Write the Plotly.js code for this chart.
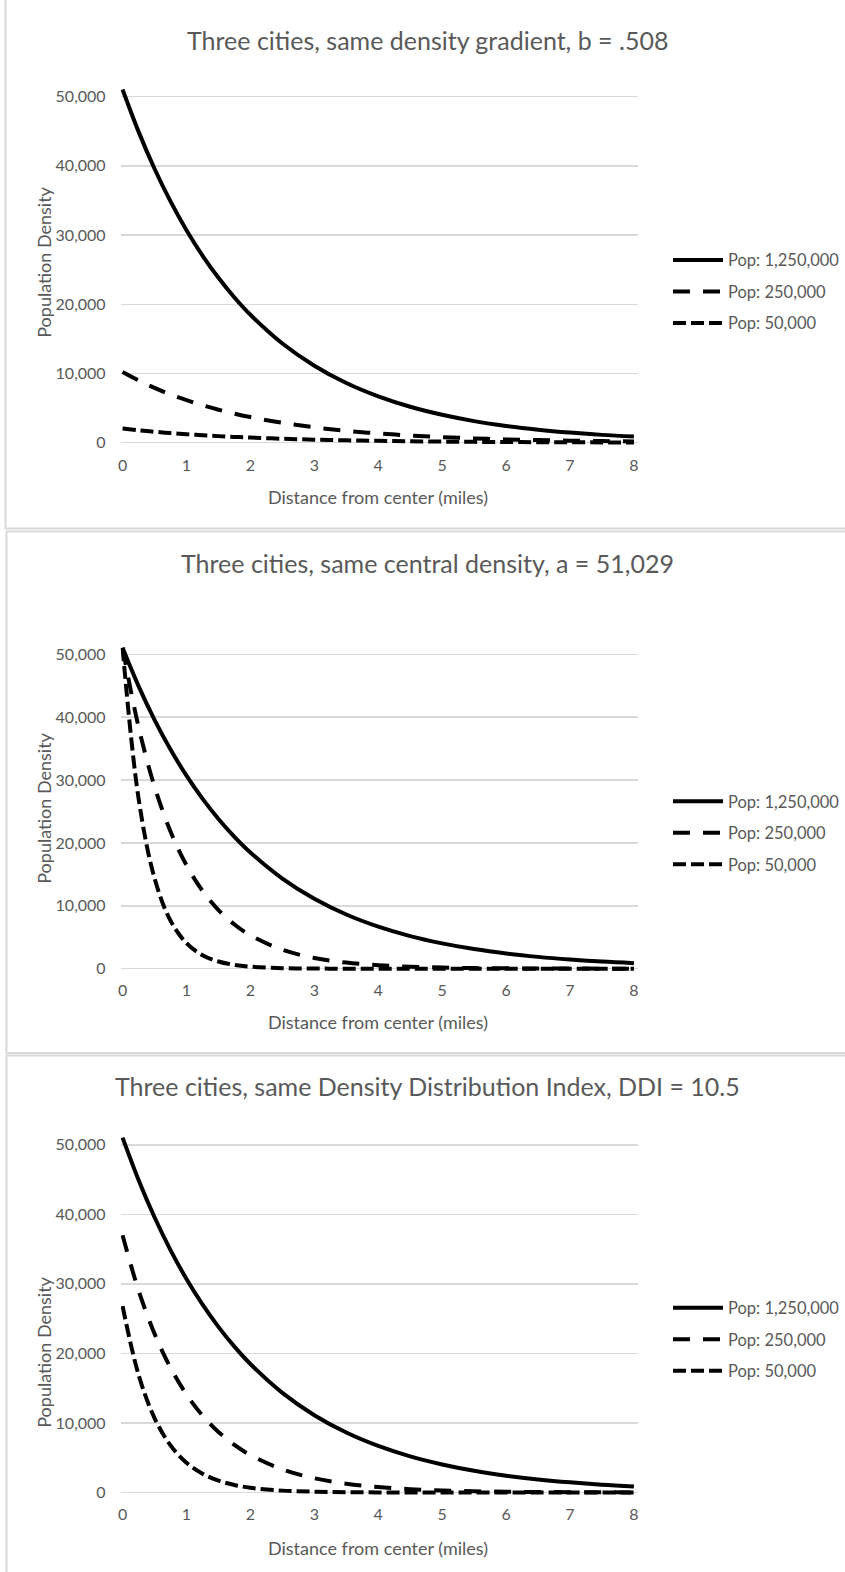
<!DOCTYPE html>
<html>
<head>
<meta charset="utf-8">
<script src="https://cdn.plot.ly/plotly-3.0.1.min.js"></script>
<style>
  html, body { margin:0; padding:0; background:#fff; overflow:hidden; }
  #chart { width:845px; height:1572px; }
</style>
</head>
<body>
<div id="chart"></div>
<script>
// ---------- data ----------
const distance = [0,0.25,0.5,0.75,1,1.25,1.5,1.75,2,2.5,3,3.5,4,4.5,5,5.5,6,6.5,7,7.5,8];
const xTicks = [0,1,2,3,4,5,6,7,8];
const yTicks = [0,10000,20000,30000,40000,50000];
const seriesNames = ["Pop: 1,250,000", "Pop: 250,000", "Pop: 50,000"];
const chartTitles = [
  "Three cities, same density gradient, b = .508",
  "Three cities, same central density, a = 51,029",
  "Three cities, same Density Distribution Index, DDI = 10.5"
];
const xTitle = "Distance from center (miles)";
const yTitle = "Population Density";

// Panel 1: same density gradient
const p1Pop1250 = [51030,44940,39580,34860,30700,27040,23820,20980,18480,14330,11120,8620,6690,5190,4030,3120,2420,1880,1460,1130,880];
const p1Pop250  = [10210,8990,7920,6970,6140,5410,4760,4200,3700,2870,2220,1720,1340,1040,810,620,480,380,290,230,180];
const p1Pop50   = [2040,1800,1580,1390,1230,1080,950,840,740,570,440,340,270,210,160,120,100,75,58,45,35];
// Panel 2: same central density
const p2Pop1250 = [51030,44940,39580,34860,30700,27040,23820,20980,18480,14330,11120,8620,6690,5190,4030,3120,2420,1880,1460,1130,880];
const p2Pop250  = [51030,38450,28960,21830,16440,12390,9330,7030,5300,3010,1710,970,550,310,180,100,57,32,18,10,6];
const p2Pop50   = [51030,27100,14390,7640,4060,2150,1140,610,320,91,26,7,2,1,0,0,0,0,0,0,0];
// Panel 3: same DDI
const p3Pop1250 = [51030,44940,39580,34860,30700,27040,23820,20980,18480,14330,11120,8620,6690,5190,4030,3120,2420,1880,1460,1130,880];
const p3Pop250  = [36990,29060,22840,17950,14100,11080,8710,6840,5380,3320,2050,1270,780,480,300,180,110,70,43,27,16];
const p3Pop50   = [26810,16940,10710,6770,4280,2700,1710,1080,680,270,110,43,17,7,3,1,0,0,0,0,0];

// ---------- layout geometry (pixels) ----------
const W = 845, H = 1572;
const px2x = p => p / W;
const px2y = p => 1 - p / H;
const X0PX = 123.3, X8PX = 637.7;
const XMIN = -0.03, XMAX = 8.06;
const xPer = (X8PX - X0PX) / 8;
const xDomain = [px2x(X0PX + XMIN * xPer), px2x(X0PX + XMAX * xPer)];
const YMIN = -700, YMAX = 52500;

const panels = [
  { y0: 442.7,  y50: 96.6,   title: 40,     xt: 497.5,  yt: 262,  leg: 291.8,  data: [p1Pop1250, p1Pop250, p1Pop50] },
  { y0: 968.7,  y50: 654.3,  title: 562.5,  xt: 1021.6, yt: 808,  leg: 833.0,  data: [p2Pop1250, p2Pop250, p2Pop50] },
  { y0: 1492.5, y50: 1144.8, title: 1085.8, xt: 1547.5, yt: 1352, leg: 1339.5, data: [p3Pop1250, p3Pop250, p3Pop50] }
];

const FONT = "Lato, 'Open Sans', sans-serif";
const TXT = "#595959";
const lineStyles = [
  { color:"#000", width:4, dash:"solid" },
  { color:"#000", width:4, dash:"17px,13px" },
  { color:"#000", width:4, dash:"13px,5px" }
];

const traces = [];
const layout = {
  width: W, height: H,
  margin: { l:0, r:0, t:0, b:0, pad:0 },
  paper_bgcolor: "#fff",
  plot_bgcolor: "rgba(0,0,0,0)",
  font: { family: FONT, color: TXT },
  annotations: [],
  shapes: []
};

panels.forEach((p, i) => {
  const n = i === 0 ? "" : String(i + 1);
  const per = (p.y0 - p.y50) / 50000;
  const bottomPx = p.y0 - YMIN * per;
  const topPx = p.y0 - YMAX * per;
  layout["xaxis" + n] = {
    domain: xDomain, range: [XMIN, XMAX], anchor: "y" + n,
    tickmode: "array", tickvals: xTicks,
    showgrid: false, zeroline: false, showline: false, ticks: "",
    ticklabelstandoff: 6,
    tickfont: { family: FONT, size: 16, color: TXT }, fixedrange: true
  };
  layout["yaxis" + n] = {
    domain: [px2y(bottomPx), px2y(topPx)], range: [YMIN, YMAX], anchor: "x" + n,
    tickmode: "array", tickvals: yTicks, tickformat: ",d",
    showgrid: true, gridcolor: "#d9d9d9", gridwidth: 1.5,
    zeroline: false, showline: false, ticks: "",
    ticklabelstandoff: 14,
    tickfont: { family: FONT, size: 16, color: TXT }, fixedrange: true
  };
  const legName = "legend" + n;
  layout[legName] = {
    x: px2x(672), xanchor: "left",
    y: px2y(p.leg), yanchor: "middle",
    font: { family: FONT, size: 16.5, color: TXT },
    bgcolor: "rgba(0,0,0,0)", borderwidth: 0,
    traceorder: "grouped", tracegroupgap: 7, itemwidth: 50
  };
  p.data.forEach((arr, k) => {
    traces.push({
      type: "scatter", mode: "lines",
      x: distance, y: arr,
      xaxis: "x" + n, yaxis: "y" + n,
      name: seriesNames[k],
      legend: legName, legendgroup: "g" + i + "_" + k,
      line: Object.assign({ shape: "spline", smoothing: 1 }, lineStyles[k]),
      hoverinfo: "skip"
    });
  });
  layout.annotations.push({
    text: chartTitles[i], xref: "paper", yref: "paper",
    x: px2x(430), y: px2y(p.title), xanchor: "center", yanchor: "middle",
    showarrow: false, font: { family: FONT, size: 25, color: TXT }
  });
  layout.annotations.push({
    text: xTitle, xref: "paper", yref: "paper",
    x: px2x((X0PX + X8PX) / 2), y: px2y(p.xt), xanchor: "center", yanchor: "middle",
    showarrow: false, font: { family: FONT, size: 18, color: TXT }
  });
  layout.annotations.push({
    text: yTitle, xref: "paper", yref: "paper", textangle: -90,
    x: px2x(44), y: px2y(p.yt), xanchor: "center", yanchor: "middle",
    showarrow: false, font: { family: FONT, size: 18, color: TXT }
  });
});

// panel borders
const border = { color: "#d9d9d9", width: 2 };
layout.shapes.push({ type:"rect", xref:"paper", yref:"paper", x0:px2x(5.5), x1:1.05, y0:px2y(528.5), y1:1.05, line:border, layer:"below" });
layout.shapes.push({ type:"rect", xref:"paper", yref:"paper", x0:px2x(6.5), x1:1.05, y0:px2y(1053), y1:px2y(531.5), line:border, layer:"below" });
layout.shapes.push({ type:"rect", xref:"paper", yref:"paper", x0:px2x(6.5), x1:1.05, y0:-0.05, y1:px2y(1055.5), line:border, layer:"below" });

Plotly.newPlot("chart", traces, layout, { displayModeBar: false, staticPlot: true });
</script>
</body>
</html>
